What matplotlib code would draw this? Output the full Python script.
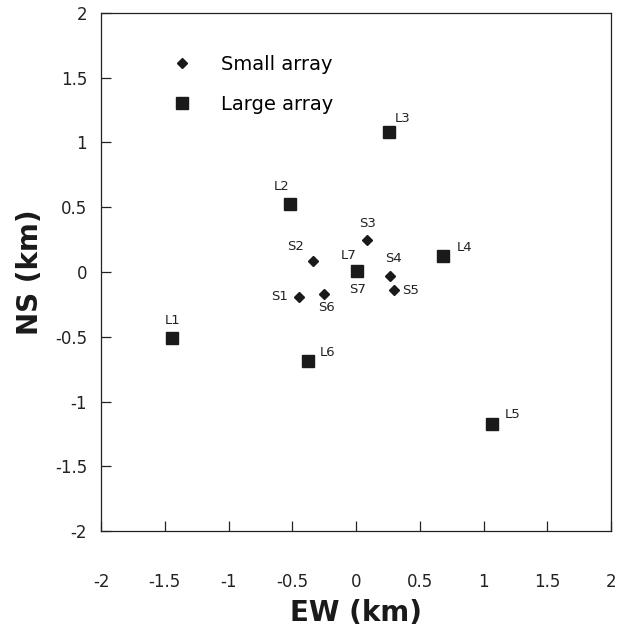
import matplotlib
matplotlib.use("Agg")
import matplotlib.pyplot as plt

plt.rcParams['font.family'] = ['DejaVu Sans']

small_names = ["S1", "S2", "S3", "S4", "S5", "S6", "S7"]
small_ew = [-0.45, -0.34, 0.09, 0.27, 0.30, -0.25, 0.01]
small_ns = [-0.19, 0.085, 0.25, -0.03, -0.14, -0.17, 0.01]

large_names = ["L1", "L2", "L3", "L4", "L5", "L6", "L7"]
large_ew = [-1.44, -0.52, 0.26, 0.68, 1.07, -0.38, 0.01]
large_ns = [-0.51, 0.525, 1.08, 0.12, -1.17, -0.69, 0.01]

ticks = [-2, -1.5, -1, -0.5, 0, 0.5, 1, 1.5, 2]
tick_labels = ["-2", "-1.5", "-1", "-0.5", "0", "0.5", "1", "1.5", "2"]

# label offsets in points (dx, dy, ha, va)
small_off = {
    "S1": (-8, 0, "right", "center"),
    "S2": (-6, 6, "right", "bottom"),
    "S3": (0, 7, "center", "bottom"),
    "S4": (2, 8, "center", "bottom"),
    "S5": (6, 0, "left", "center"),
    "S6": (2, -5, "center", "top"),
    "S7": (0, -9, "center", "top"),
}
large_off = {
    "L1": (0, 8, "center", "bottom"),
    "L2": (-6, 8, "center", "bottom"),
    "L3": (4, 5, "left", "bottom"),
    "L4": (10, 2, "left", "bottom"),
    "L5": (9, 2, "left", "bottom"),
    "L6": (9, 2, "left", "bottom"),
    "L7": (-6, 6, "center", "bottom"),
}

fig = plt.figure(figsize=(6.17, 6.37), dpi=100)
ax = fig.add_axes([0.1637, 0.1664, 0.8266, 0.8132])

ax.plot(large_ew, large_ns, linestyle="none", marker="s", markersize=8.5,
        color="#1a1a1a", label="Large array", zorder=3)
ax.plot(small_ew, small_ns, linestyle="none", marker="D", markersize=5.5,
        color="#1a1a1a", label="Small array", zorder=4)

for n, x, y in zip(small_names, small_ew, small_ns):
    dx, dy, ha, va = small_off[n]
    ax.annotate(n, (x, y), xytext=(dx, dy), textcoords="offset points",
                ha=ha, va=va, fontsize=9.5, color="#222222")
for n, x, y in zip(large_names, large_ew, large_ns):
    dx, dy, ha, va = large_off[n]
    ax.annotate(n, (x, y), xytext=(dx, dy), textcoords="offset points",
                ha=ha, va=va, fontsize=9.5, color="#222222")

ax.set_xlim(-2, 2)
ax.set_ylim(-2, 2)
ax.set_xticks(ticks)
ax.set_xticklabels(tick_labels)
ax.set_yticks(ticks)
ax.set_yticklabels(tick_labels)
ax.tick_params(direction="in", length=7, width=0.9, labelsize=12,
               pad=30, colors="#222222", axis="x")
ax.tick_params(direction="in", length=7, width=0.9, labelsize=12,
               pad=10, colors="#222222", axis="y")
for s in ax.spines.values():
    s.set_linewidth(0.9)
    s.set_color("#222222")

ax.set_xlabel("EW (km)", fontsize=20, fontweight="bold", labelpad=6,
              color="#1a1a1a")
ax.set_ylabel("NS (km)", fontsize=20, fontweight="bold", labelpad=8,
              color="#1a1a1a")

handles, labels = ax.get_legend_handles_labels()
leg = ax.legend(handles[::-1], labels[::-1], loc="upper left",
                bbox_to_anchor=(0.082, 0.956), frameon=False, fontsize=14,
                handletextpad=1.0, labelspacing=1.05, borderpad=0.5)

fig.savefig("out.png", dpi=100)
